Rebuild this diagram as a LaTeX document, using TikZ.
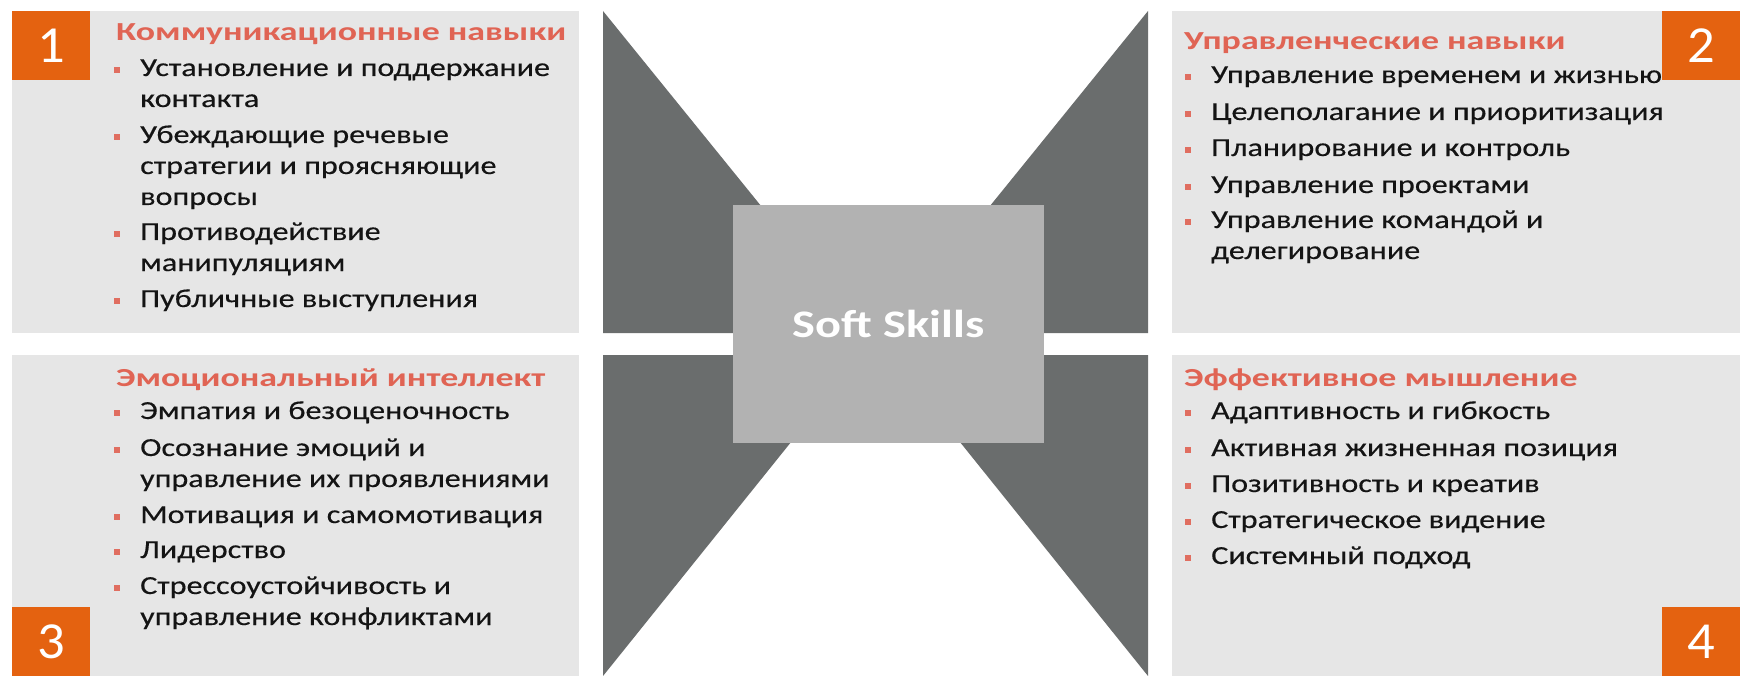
\documentclass[tikz,border=0pt]{standalone}
\usepackage{fontspec}
\setmainfont{Carlito}[FakeStretch=1.235]
\newfontfamily\bodyfont{Carlito}[FakeStretch=1.235,FakeBold=0.35]
\newfontfamily\titlefont{Carlito Bold}[FakeStretch=1.38]
\newfontfamily\centerfont{Carlito Bold}[FakeStretch=1.24]
\newfontfamily\numfont{Carlito}[FakeStretch=1.05]
\definecolor{panelgray}{RGB}{230,230,230}
\definecolor{darkgray}{RGB}{106,109,109}
\definecolor{boxgray}{RGB}{178,178,178}
\definecolor{numorange}{RGB}{228,98,16}
\definecolor{titlered}{RGB}{224,100,84}
\definecolor{bulletred}{RGB}{224,110,96}
\definecolor{textdark}{RGB}{20,20,20}
\tikzset{
  panel/.style={fill=panelgray},
  wedge/.style={fill=darkgray},
  numbox/.style={fill=numorange, text=white, font=\numfont\fontsize{52}{52}\selectfont, inner sep=0pt, minimum width=78pt, minimum height=69pt, anchor=north west},
  ttl/.style={anchor=base west, text=titlered, font=\titlefont\fontsize{26}{31}\selectfont, inner sep=0pt},
  itm/.style={anchor=base west, text=textdark, font=\bodyfont\fontsize{26}{31}\selectfont, inner sep=0pt},
  bul/.style={fill=bulletred, minimum size=6pt, inner sep=0pt},
  centerbox/.style={fill=boxgray, text=white, font=\centerfont\fontsize{39}{39}\selectfont, inner sep=0pt, minimum width=311pt, minimum height=238pt}
}
\begin{document}
\begin{tikzpicture}[x=1pt,y=-1pt]
\useasboundingbox (0,0) rectangle (1744,676);
\fill[white] (0,0) rectangle (1744,676);
% panels
\fill[panel] (12,11) rectangle (579,333);
\fill[panel] (1172,11) rectangle (1740,333);
\fill[panel] (12,355) rectangle (579,676);
\fill[panel] (1172,355) rectangle (1740,676);
% dark wedges
\fill[wedge] (603,11) -- (603,333) -- (864,333) -- cycle;
\fill[wedge] (1148,11) -- (1148,333) -- (887,333) -- cycle;
\fill[wedge] (603,355) -- (603,676) -- (861,355) -- cycle;
\fill[wedge] (1148,355) -- (1148,676) -- (890,355) -- cycle;
% center
\node[centerbox] (center) at (888.5,324) {Soft Skills};
% number boxes
\node[numbox] (n1) at (12,11) {1};
\node[numbox] (n2) at (1662,11) {2};
\node[numbox] (n3) at (12,607) {3};
\node[numbox] (n4) at (1662,607) {4};

% panel 1
\node[ttl] (t1) at (116,41) {Коммуникационные навыки};
\node[bul] (b11) at (117,70) {};
\node[itm] (i11) at (140,76) {Установление и поддержание};
\node[itm] (i11b) at (140,107) {контакта};
\node[bul] (b12) at (117,137) {};
\node[itm] (i12) at (140,143) {Убеждающие речевые};
\node[itm] (i12b) at (140,174) {стратегии и проясняющие};
\node[itm] (i12c) at (140,205) {вопросы};
\node[bul] (b13) at (117,234) {};
\node[itm] (i13) at (140,240) {Противодействие};
\node[itm] (i13b) at (140,271) {манипуляциям};
\node[bul] (b14) at (117,301) {};
\node[itm] (i14) at (140,307) {Публичные выступления};

% panel 2
\node[ttl] (t2) at (1184,50) {Управленческие навыки};
\node[bul] (b21) at (1188,77) {};
\node[itm] (i21) at (1211,83) {Управление временем и жизнью};
\node[bul] (b22) at (1188,114) {};
\node[itm] (i22) at (1211,120) {Целеполагание и приоритизация};
\node[bul] (b23) at (1188,150) {};
\node[itm] (i23) at (1211,156) {Планирование и контроль};
\node[bul] (b24) at (1188,187) {};
\node[itm] (i24) at (1211,193) {Управление проектами};
\node[bul] (b25) at (1188,222) {};
\node[itm] (i25) at (1211,228) {Управление командой и};
\node[itm] (i25b) at (1211,259) {делегирование};

% panel 3
\node[ttl] (t3) at (116,386) {Эмоциональный интеллект};
\node[bul] (b31) at (117,413) {};
\node[itm] (i31) at (140,419) {Эмпатия и безоценочность};
\node[bul] (b32) at (117,450) {};
\node[itm] (i32) at (140,456) {Осознание эмоций и};
\node[itm] (i32b) at (140,487) {управление их проявлениями};
\node[bul] (b33) at (117,517) {};
\node[itm] (i33) at (140,523) {Мотивация и самомотивация};
\node[bul] (b34) at (117,552) {};
\node[itm] (i34) at (140,558) {Лидерство};
\node[bul] (b35) at (117,588) {};
\node[itm] (i35) at (140,594) {Стрессоустойчивость и};
\node[itm] (i35b) at (140,625) {управление конфликтами};

% panel 4
\node[ttl] (t4) at (1184,386) {Эффективное мышление};
\node[bul] (b41) at (1188,413) {};
\node[itm] (i41) at (1211,419) {Адаптивность и гибкость};
\node[bul] (b42) at (1188,450) {};
\node[itm] (i42) at (1211,456) {Активная жизненная позиция};
\node[bul] (b43) at (1188,486) {};
\node[itm] (i43) at (1211,492) {Позитивность и креатив};
\node[bul] (b44) at (1188,522) {};
\node[itm] (i44) at (1211,528) {Стратегическое видение};
\node[bul] (b45) at (1188,558) {};
\node[itm] (i45) at (1211,564) {Системный подход};
\end{tikzpicture}
\end{document}
